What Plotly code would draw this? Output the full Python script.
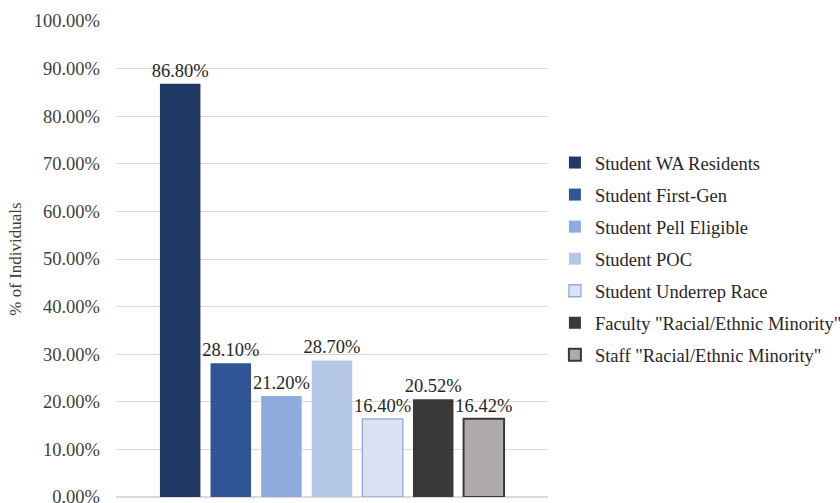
import plotly.graph_objects as go

series = ["Student WA Residents", "Student First-Gen", "Student Pell Eligible",
          "Student POC", "Student Underrep Race",
          'Faculty "Racial/Ethnic Minority"', 'Staff "Racial/Ethnic Minority"']
values = [86.80, 28.10, 21.20, 28.70, 16.40, 20.52, 16.42]
fills = ["#1f3864", "#2f5597", "#8faadc", "#b4c7e7", "#dae3f3", "#3b3838", "#aeaaaa"]
borders = ["#1f3864", "#2f5597", "#8faadc", "#b4c7e7", "#8faadc", "#3b3838", "#3b3838"]
border_w = [0, 0, 0, 0, 1.3, 0, 2]
tickvals = [0, 10, 20, 30, 40, 50, 60, 70, 80, 90, 100]
ticktext = [f"{v:.2f}%" for v in tickvals]

FONT = "Liberation Serif"
fig = go.Figure()
for name, v, f, b, w in zip(series, values, fills, borders, border_w):
    fig.add_trace(go.Bar(
        x=[""], y=[v], name=name, legendgroup=name,
        marker=dict(color=f, line=dict(color=b, width=w)),
        text=[f"{v:.2f}%"], textposition="outside", cliponaxis=False,
        constraintext="none",
        textfont=dict(family=FONT, size=18.5, color="#262626"),
        hoverinfo="skip",
    ))

fig.update_layout(
    width=840, height=503,
    margin=dict(l=116, r=292, t=21, b=6, autoexpand=False),
    barmode="group", bargap=0.18, bargroupgap=0.2,
    plot_bgcolor="white", paper_bgcolor="white",
    font=dict(family=FONT, color="#262626"),
    showlegend=True,
    legend=dict(x=1.016, y=0.5, xanchor="left", yanchor="middle",
                font=dict(family=FONT, size=18.5, color="#262626"),
                tracegroupgap=5, itemwidth=30),
)
fig.update_yaxes(range=[0, 100], tickvals=tickvals, ticktext=ticktext,
                 showgrid=True, gridcolor="#d9d9d9", gridwidth=1,
                 zeroline=True, zerolinecolor="#d9d9d9",
                 tickfont=dict(family=FONT, size=18.5, color="#404040"),
                 ticks="", ticklabelstandoff=15, ticklabeloverflow="allow",
                 automargin=False,
                 title=dict(text="% of Individuals", font=dict(family=FONT, size=17, color="#404040"), standoff=7))
fig.update_xaxes(showticklabels=False, showgrid=False, zeroline=False, showline=False, automargin=False)

fig.write_html("out.html")
